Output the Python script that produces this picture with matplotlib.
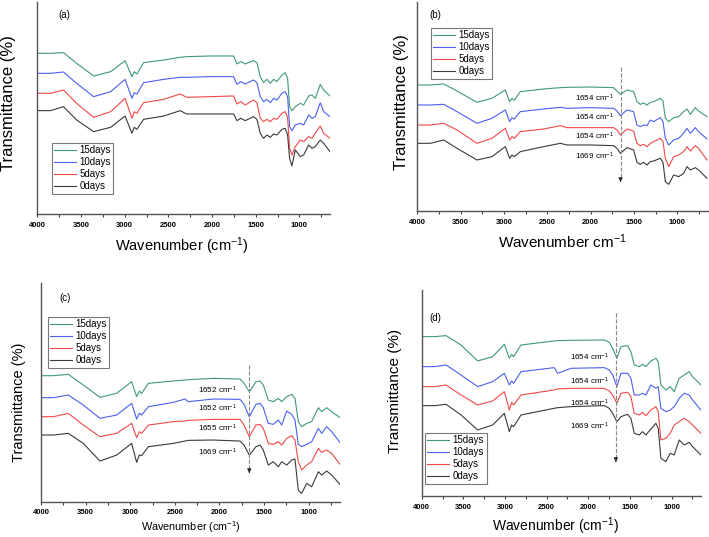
import matplotlib
matplotlib.use("Agg")
import matplotlib.pyplot as plt

plt.rcParams["font.family"] = ["Liberation Sans", "DejaVu Sans"]
plt.rcParams["mathtext.default"] = "regular"

labels = ["15days", "10days", "5days", "0days"]
colors = ["#3f9a72", "#4b5ff0", "#f04848", "#3a3a3a"]

# panel (a): wavenumber (cm-1) and stacked transmittance (offset, arb. units)
wn_a = [4000, 3850, 3700, 3550, 3355, 3160, 2995, 2917, 2890, 2860, 2783, 2550, 2365, 2290,
        2020, 1753, 1715, 1669, 1620, 1525, 1486, 1448, 1410, 1372, 1333, 1295, 1257, 1200,
        1162, 1135, 1112, 1085, 1047, 990, 951, 894, 856, 818, 761, 722, 650]
a_15 = [510, 510, 512, 480, 442, 455, 488, 440, 455, 448, 482, 490, 498, 500, 502, 502, 478,
        485, 478, 488, 482, 440, 422, 432, 420, 432, 425, 445, 452, 435, 350, 338, 350, 360,
        355, 382, 385, 375, 417, 400, 382]
a_10 = [450, 450, 454, 420, 380, 395, 432, 375, 392, 388, 422, 432, 438, 438, 440, 440, 417,
        425, 418, 430, 422, 380, 365, 372, 362, 375, 370, 390, 395, 380, 290, 278, 295, 300,
        295, 325, 315, 320, 362, 335, 320]
a_5 = [390, 390, 400, 360, 318, 335, 375, 315, 335, 330, 362, 372, 388, 378, 380, 382, 358,
       365, 355, 370, 362, 315, 305, 312, 305, 315, 312, 330, 335, 318, 225, 205, 230, 250,
       245, 260, 255, 270, 292, 270, 255]
a_0 = [338, 338, 350, 310, 275, 288, 322, 270, 288, 282, 312, 322, 338, 328, 328, 328, 308,
       315, 308, 320, 312, 270, 255, 265, 258, 268, 265, 282, 285, 265, 195, 172, 220, 200,
       205, 235, 225, 230, 250, 240, 215]

# panel (b)
wn_b = [4000, 3850, 3696, 3542, 3312, 3139, 2985, 2935, 2908, 2881, 2812, 2543, 2350, 2274,
        2004, 1735, 1697, 1658, 1581, 1505, 1466, 1428, 1389, 1351, 1312, 1274, 1197, 1166,
        1139, 1100, 1043, 985, 928, 889, 850, 793, 755, 658]
b_15 = [420, 420, 423, 402, 368, 380, 405, 370, 380, 374, 400, 408, 412, 413, 414, 412, 402,
        392, 405, 400, 370, 362, 366, 360, 368, 370, 380, 372, 320, 310, 322, 325, 340, 348,
        332, 352, 342, 325]
b_10 = [360, 360, 362, 340, 305, 320, 345, 310, 322, 318, 340, 348, 353, 350, 352, 350, 342,
        328, 345, 340, 300, 295, 300, 298, 315, 310, 322, 310, 260, 240, 255, 260, 275, 290,
        275, 292, 280, 258]
b_5 = [300, 300, 305, 285, 245, 260, 290, 255, 265, 260, 280, 288, 298, 292, 292, 292, 285,
       270, 288, 282, 245, 238, 242, 235, 245, 250, 260, 250, 200, 175, 205, 210, 220, 235,
       222, 238, 230, 195]
b_0 = [245, 245, 255, 230, 195, 205, 235, 200, 210, 205, 220, 235, 245, 240, 240, 238, 230,
       215, 232, 225, 188, 182, 188, 180, 190, 192, 200, 188, 130, 122, 150, 145, 155, 175,
       165, 172, 165, 140]
b_peaks = ["1654", "1654", "1654", "1669"]

# panel (c)
wn_c = [4000, 3862, 3694, 3526, 3339, 3152, 2984, 2928, 2898, 2872, 2797, 2517, 2386, 2349,
        2069, 1770, 1725, 1666, 1591, 1546, 1509, 1453, 1397, 1341, 1303, 1247, 1191, 1154,
        1117, 1079, 1023, 967, 892, 855, 799, 743, 650]
c_15 = [418, 418, 422, 390, 353, 365, 400, 355, 372, 365, 395, 402, 405, 406, 410, 408, 395,
        370, 400, 402, 390, 345, 340, 350, 340, 355, 362, 350, 280, 265, 275, 280, 322, 310,
        322, 310, 292]
c_10 = [352, 352, 360, 330, 290, 300, 335, 288, 305, 300, 325, 338, 348, 340, 348, 347, 332,
        295, 332, 335, 322, 275, 272, 285, 270, 312, 302, 285, 212, 205, 212, 220, 260, 245,
        265, 250, 218]
c_5 = [295, 295, 305, 270, 235, 245, 275, 232, 250, 245, 270, 280, 282, 284, 287, 287, 270,
       235, 270, 272, 260, 215, 212, 220, 210, 230, 238, 225, 160, 135, 150, 160, 200, 188,
       195, 185, 152]
c_0 = [240, 240, 245, 215, 162, 180, 215, 158, 180, 178, 205, 215, 222, 224, 225, 222, 210,
       180, 205, 210, 195, 150, 160, 145, 160, 150, 165, 168, 75, 65, 95, 85, 130, 120, 132,
       120, 92]
c_peaks = ["1652", "1652", "1655", "1669"]

# panel (d)
wn_d = [4000, 3848, 3708, 3528, 3328, 3148, 3008, 2948, 2920, 2896, 2808, 2408, 2368, 2208,
        1808, 1748, 1708, 1656, 1608, 1528, 1488, 1448, 1388, 1348, 1308, 1248, 1188, 1160,
        1128, 1068, 1016, 968, 908, 848, 788, 748, 648]
d_15 = [515, 515, 518, 490, 442, 455, 492, 450, 462, 455, 490, 502, 503, 504, 505, 498, 480,
        450, 485, 488, 470, 430, 425, 432, 425, 442, 450, 440, 370, 355, 365, 350, 390, 400,
        410, 395, 370]
d_10 = [425, 425, 430, 400, 365, 380, 405, 370, 382, 375, 410, 422, 405, 420, 422, 415, 400,
        365, 405, 405, 390, 340, 340, 345, 340, 370, 360, 365, 300, 290, 295, 305, 330, 345,
        340, 325, 295]
d_5 = [365, 365, 370, 340, 310, 322, 350, 295, 318, 310, 340, 355, 358, 360, 360, 352, 340,
       315, 345, 348, 335, 285, 280, 288, 278, 295, 305, 290, 205, 210, 225, 250, 260, 270,
       260, 250, 225]
d_0 = [308, 308, 312, 280, 235, 250, 285, 230, 250, 245, 280, 300, 302, 305, 308, 300, 285,
       260, 275, 282, 270, 225, 220, 230, 220, 238, 255, 240, 150, 140, 165, 160, 205, 190,
       198, 185, 160]
d_peaks = ["1654", "1654", "1654", "1669"]


def draw_panel(ax, wn, series, ylim, leg_xy):
    for y, c, lab in zip(series, colors, labels):
        ax.plot(wn, y, color=c, lw=0.8, label=lab)
    ax.set_xlim(4000, 650)
    ax.set_ylim(*ylim)
    ax.set_xticks(range(4000, 999, -500))
    ax.set_xticks(range(3750, 650, -500), minor=True)
    ax.set_yticks([])
    ax.tick_params(axis="x", which="both", direction="out", length=2.5, width=0.8,
                   pad=3, labelsize=5.5, colors="#444444", labelcolor="black")
    for lbl in ax.get_xticklabels():
        lbl.set_fontweight("bold")
    for s in ["top", "right"]:
        ax.spines[s].set_visible(False)
    for s in ["left", "bottom"]:
        ax.spines[s].set_color("#555555")
        ax.spines[s].set_linewidth(1.0)
    leg = ax.legend(loc="upper left", bbox_to_anchor=leg_xy, fontsize=7, frameon=True,
                    fancybox=False, edgecolor="#555555", borderpad=0.25, labelspacing=0.2,
                    handlelength=2.2, handletextpad=0.4, borderaxespad=0)
    leg.get_frame().set_linewidth(0.8)


def mark_peak(ax, names, text_x, text_y, arrow_x, arrow_top, arrow_bottom):
    for name, ty in zip(names, text_y):
        ax.text(text_x, ty, name + " cm$^{-1}$", fontsize=5.8, ha="right", va="center")
    ax.plot([arrow_x, arrow_x], [arrow_top, arrow_bottom + 10], ls="--", color="#888888", lw=0.8)
    ax.annotate("", xy=(arrow_x, arrow_bottom), xytext=(arrow_x, arrow_bottom + 12),
                arrowprops=dict(arrowstyle="-|>", color="#222222", lw=0.6,
                                mutation_scale=6))


fig = plt.figure(figsize=(7.09, 5.37), dpi=100)

ax_a = fig.add_axes([0.0526, 0.6009, 0.4128, 0.3954])
draw_panel(ax_a, wn_a, [a_15, a_10, a_5, a_0], (27, 664), (0.05, 0.336))

ax_b = fig.add_axes([0.5886, 0.6071, 0.4096, 0.3892])
draw_panel(ax_b, wn_b, [b_15, b_10, b_5, b_0], (42, 669), (0.047, 0.876))
mark_peak(ax_b, b_peaks, 1731, [381, 322, 265, 207], 1655, 474, 129)

ax_c = fig.add_axes([0.0578, 0.0657, 0.4217, 0.4067])
draw_panel(ax_c, wn_c, [c_15, c_10, c_5, c_0], (40, 695), (0.023, 0.846))
mark_peak(ax_c, c_peaks, 1804, [375, 320, 260, 188], 1666, 450, 126)

ax_d = fig.add_axes([0.5948, 0.0764, 0.3935, 0.3836])
draw_panel(ax_d, wn_d, [d_15, d_10, d_5, d_0], (37, 655), (0.012, 0.306))
mark_peak(ax_d, d_peaks, 1751, [453, 380, 315, 245], 1668, 586, 139)

# panel letters
fig.text(0.0903, 0.972, "(a)", fontsize=7, ha="center", va="center")
fig.text(0.6135, 0.972, "(b)", fontsize=7, ha="center", va="center")
fig.text(0.0917, 0.445, "(c)", fontsize=7, ha="center", va="center")
fig.text(0.6135, 0.408, "(d)", fontsize=7, ha="center", va="center")

# axis titles
fig.text(0.012, 0.809, "Transmittance (%)", fontsize=12, rotation=90, ha="center", va="center")
fig.text(0.5663, 0.810, "Transmittance (%)", fontsize=12, rotation=90, ha="center", va="center")
fig.text(0.0268, 0.2514, "Transmittance (%)", fontsize=10.5, rotation=90, ha="center", va="center")
fig.text(0.5571, 0.2719, "Transmittance (%)", fontsize=11, rotation=90, ha="center", va="center")
fig.text(0.2563, 0.5419, "Wavenumber (cm$^{-1}$)", fontsize=10.5, ha="center", va="center")
fig.text(0.7934, 0.5503, "Wavenumber cm$^{-1}$", fontsize=11, ha="center", va="center")
fig.text(0.2691, 0.018, "Wavenumber (cm$^{-1}$)", fontsize=7.8, ha="center", va="center")
fig.text(0.7828, 0.0209, "Wavenumber (cm$^{-1}$)", fontsize=10, ha="center", va="center")

fig.savefig("out.png", dpi=100)
